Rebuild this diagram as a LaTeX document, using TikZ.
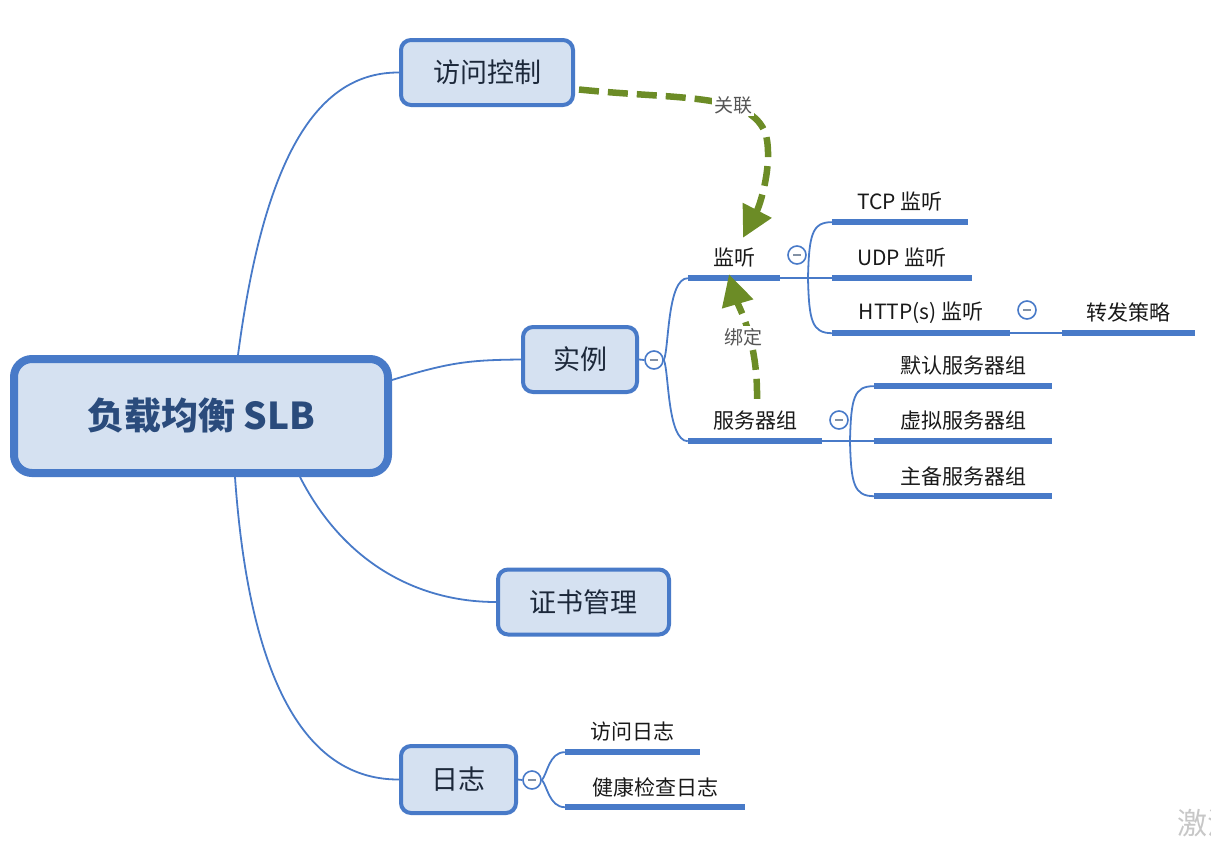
\documentclass[tikz,border=0pt]{standalone}
\usepackage{fontspec}
\setmainfont{Noto Sans CJK SC}
\usetikzlibrary{arrows.meta,calc,backgrounds}
\definecolor{lineblue}{RGB}{72,122,200}
\definecolor{boxfill}{RGB}{213,225,241}
\definecolor{boxtext}{RGB}{28,40,58}
\definecolor{roottext}{RGB}{42,75,124}
\definecolor{relgreen}{RGB}{108,140,38}
\definecolor{labelgray}{RGB}{85,85,85}
\definecolor{minusgray}{RGB}{130,145,165}
\begin{document}
\begin{tikzpicture}[x=1pt,y=-1pt,
 rootbox/.style={draw=lineblue,line width=8pt,fill=boxfill,rounded corners=18pt,minimum width=374pt,minimum height=114pt,font=\fontsize{37}{40}\selectfont\bfseries,text=roottext,inner sep=0},
 mainbox/.style={draw=lineblue,line width=4pt,fill=boxfill,rounded corners=10pt,minimum height=65pt,font=\fontsize{27}{30}\selectfont,text=boxtext,inner sep=0},
 topic/.style={inner sep=0,minimum height=40pt,font=\fontsize{21}{25}\selectfont,text=black!90},
 uline/.style={draw=lineblue,line width=5.5pt},
 conn/.style={draw=lineblue,line width=1.8pt},
 fold/.style={circle,draw=lineblue,line width=1.6pt,fill=white,minimum size=18pt,inner sep=0,
   path picture={\draw[minusgray,line width=1.3pt] ($(path picture bounding box.center)+(-4,0)$) -- ($(path picture bounding box.center)+(4,0)$);}},
 rel/.style={draw=relgreen,line width=6.5pt,dash pattern=on 20pt off 9pt,-{Triangle[length=31pt,width=31pt]}},
 rellabel/.style={fill=white,inner sep=2pt,font=\fontsize{19}{22}\selectfont,text=labelgray}
]
\useasboundingbox (0,0) rectangle (1211,847);

% main nodes
\node[rootbox] (root) at (201,416) {负载均衡 SLB};
\node[mainbox,minimum width=172pt] (acc) at (487,72.5) {访问控制};
\node[mainbox,minimum width=114pt] (inst) at (580,359.5) {实例};
\node[mainbox,minimum width=171pt] (cert) at (583.5,602) {证书管理};
\node[mainbox,minimum width=115pt,minimum height=67pt] (logn) at (458.5,779.5) {日志};

% topics
\node[topic,minimum width=92pt] (ls) at (734,258) {监听};
\node[topic,minimum width=134pt] (sg) at (755,421) {服务器组};
\node[topic,minimum width=136pt] (tcp) at (900,202) {TCP 监听};
\node[topic,minimum width=140pt] (udp) at (902,258) {UDP 监听};
\node[topic,minimum width=178pt] (http) at (921,313) {HTTP(s) 监听};
\node[topic,minimum width=133pt] (fw) at (1128.5,313) {转发策略};
\node[topic,minimum width=178pt] (mr) at (963,366) {默认服务器组};
\node[topic,minimum width=178pt] (xn) at (963,421) {虚拟服务器组};
\node[topic,minimum width=178pt] (zb) at (963,476) {主备服务器组};
\node[topic,minimum width=135pt] (fwrz) at (632.5,732) {访问日志};
\node[topic,minimum width=180pt] (jk) at (655,787) {健康检查日志};

\foreach \n in {ls,sg,tcp,udp,http,fw,mr,xn,zb,fwrz,jk}
  \draw[uline] (\n.south west) -- (\n.south east);

% fold markers
\node[fold] (f1) at (654,360) {};
\node[fold] (f2) at (797,255) {};
\node[fold] (f3) at (1027,310) {};
\node[fold] (f4) at (839,420) {};
\node[fold] (f5) at (532,780) {};

\coordinate (b2) at (808,278);
\coordinate (b4) at (850,441);

\begin{scope}[on background layer]
\draw[conn] ($(root.north)+(37,0)$) .. controls (265,150) and (320,72) .. (acc.west);
\draw[conn] ($(root.east)+(0,-36)$) .. controls (450,362) and (470,360) .. (inst.west);
\draw[conn] ($(root.south)+(99,0)$) .. controls (345,565) and (420,602) .. (cert.west);
\draw[conn] ($(root.south)+(34,0)$) .. controls (250,690) and (310,780) .. (logn.west);

\draw[conn] (inst.east) -- (f1.west);
\draw[conn] (f1.east) .. controls (669,350) and (667,278) .. (ls.south west);
\draw[conn] (f1.east) .. controls (669,370) and (667,441) .. (sg.south west);

\draw[conn] (ls.south east) -- (udp.south west);
\draw[conn] (b2) .. controls (809,235) and (812,222) .. (tcp.south west);
\draw[conn] (b2) .. controls (809,321) and (812,333) .. (http.south west);
\draw[conn] (http.south east) -- (fw.south west);

\draw[conn] (sg.south east) -- (xn.south west);
\draw[conn] (b4) .. controls (851,398) and (854,386) .. (mr.south west);
\draw[conn] (b4) .. controls (851,484) and (854,496) .. (zb.south west);

\draw[conn] (logn.east) -- (f5.west);
\draw[conn] (f5.east) .. controls (547,775) and (549,752) .. (fwrz.south west);
\draw[conn] (f5.east) .. controls (547,785) and (549,807) .. (jk.south west);
\end{scope}

% relation arrows
\coordinate (relbend) at (766,135);
\draw[rel] ($(acc.east)+(4,17)$) .. controls (680,100) and (752,92) .. (relbend)
  .. controls (773,165) and (760,205) .. ($(ls.north)+(9,0)$);
\node[rellabel] (lab1) at (733,105) {关联};

\draw[rel] ($(sg.north)+(2,-2)$) .. controls (758,340) and (738,305) .. ($(ls.south)+(-5,-4)$);
\node[rellabel] (lab2) at (743,337) {绑定};

% watermark (cut off at the right edge, as in the reference)
\node[anchor=west,inner sep=0,font=\fontsize{30}{30}\selectfont,text=black!22] (wm) at (1177,823) {激活};
\end{tikzpicture}
\end{document}
